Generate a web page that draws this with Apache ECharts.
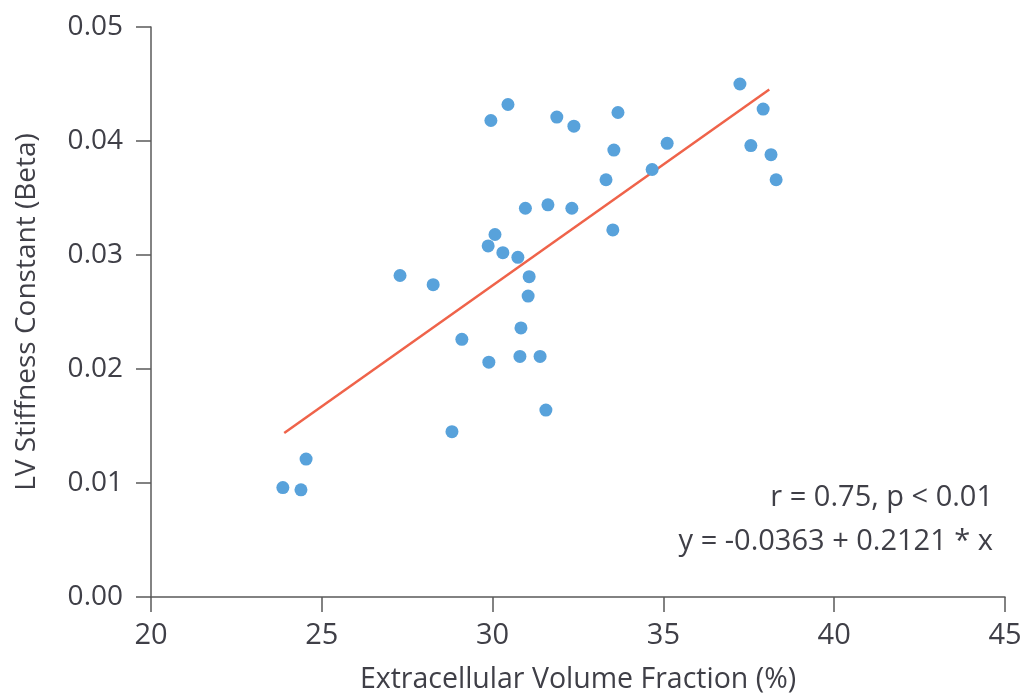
<!DOCTYPE html>
<html>
<head>
<meta charset="utf-8">
<script src="https://cdn.jsdelivr.net/npm/echarts@6/dist/echarts.min.js"></script>
<style>
  html, body { margin: 0; padding: 0; background: #fff; }
  #chart { width: 1025px; height: 693px; }
</style>
</head>
<body>
<div id="chart"></div>
<script>
// Extracellular volume fraction (%) for each subject
var ecvValues = [
  23.86, 24.39, 24.54, 27.29, 28.26, 28.81, 29.10, 29.89, 29.87, 29.95,
  30.07, 30.30, 30.45, 30.74, 30.83, 30.80, 30.96, 31.07, 31.04, 31.39,
  31.56, 31.62, 31.88, 32.32, 32.38, 33.32, 33.52, 33.55, 33.67, 34.67,
  35.11, 37.24, 37.56, 37.92, 38.15, 38.30
];
// LV stiffness constant (beta) for each subject
var betaValues = [
  0.0096, 0.0094, 0.0121, 0.0282, 0.0274, 0.0145, 0.0226, 0.0206, 0.0308, 0.0418,
  0.0318, 0.0302, 0.0432, 0.0298, 0.0236, 0.0211, 0.0341, 0.0281, 0.0264, 0.0211,
  0.0164, 0.0344, 0.0421, 0.0341, 0.0413, 0.0366, 0.0322, 0.0392, 0.0425, 0.0375,
  0.0398, 0.0450, 0.0396, 0.0428, 0.0388, 0.0366
];
// Linear fit: y = intercept + slope * (ECV / 100)
var fitIntercept = -0.0363;
var fitSlope = 0.2121;
var fitRange = [23.9, 38.1];

var xTicks = [20, 25, 30, 35, 40, 45];
var yTicks = [0, 0.01, 0.02, 0.03, 0.04, 0.05];

var statsText = 'r = 0.75, p < 0.01';
var equationText = 'y = -0.0363 + 0.2121 * x';

var points = ecvValues.map(function (x, i) { return [x, betaValues[i]]; });
var fitLine = fitRange.map(function (x) { return [x, fitIntercept + fitSlope * x / 100]; });

var textColor = '#3f3f47';
var axisColor = '#5a5a5a';
var font = '"Open Sans", sans-serif';
var weight = 500;

var chart = echarts.init(document.getElementById('chart'), null, { renderer: 'canvas' });
chart.setOption({
  animation: false,
  backgroundColor: '#ffffff',
  grid: {
    left: 151, right: 20, top: 27, bottom: 96,
    containLabel: false,
    outerBoundsMode: 'none'
  },
  xAxis: {
    type: 'value',
    min: xTicks[0],
    max: xTicks[xTicks.length - 1],
    interval: 5,
    name: 'Extracellular Volume Fraction (%)',
    nameLocation: 'middle',
    nameGap: 68,
    nameTextStyle: { color: textColor, fontFamily: font, fontSize: 28.5, fontWeight: weight },
    axisLine: { show: true, lineStyle: { color: axisColor, width: 1.5 } },
    axisTick: { show: true, length: 15, lineStyle: { color: axisColor, width: 1.5 } },
    axisLabel: { color: textColor, fontFamily: font, fontSize: 29, fontWeight: weight, margin: 24 },
    splitLine: { show: false }
  },
  yAxis: {
    type: 'value',
    min: yTicks[0],
    max: yTicks[yTicks.length - 1],
    interval: 0.01,
    name: 'LV Stiffness Constant (Beta)',
    nameLocation: 'middle',
    nameGap: 110,
    nameTextStyle: { color: textColor, fontFamily: font, fontSize: 28, fontWeight: weight },
    axisLine: { show: true, lineStyle: { color: axisColor, width: 1.5 } },
    axisTick: { show: true, length: 15, lineStyle: { color: axisColor, width: 1.5 } },
    axisLabel: {
      color: textColor, fontFamily: font, fontSize: 28, fontWeight: weight, margin: 28,
      formatter: function (v) { return v.toFixed(2); }
    },
    splitLine: { show: false }
  },
  series: [
    {
      type: 'line',
      data: fitLine,
      showSymbol: false,
      symbol: 'none',
      lineStyle: { color: '#ef634a', width: 2.5 },
      z: 2
    },
    {
      type: 'scatter',
      data: points,
      symbolSize: 13,
      itemStyle: { color: '#58a2db', opacity: 1 },
      z: 3
    }
  ],
  graphic: [
    {
      type: 'text', right: 32, top: 483,
      style: { text: statsText, fill: textColor, font: weight + ' 29px ' + font, textAlign: 'right' }
    },
    {
      type: 'text', right: 32, top: 527,
      style: { text: equationText, fill: textColor, font: weight + ' 29px ' + font, textAlign: 'right' }
    }
  ]
});
</script>
</body>
</html>
